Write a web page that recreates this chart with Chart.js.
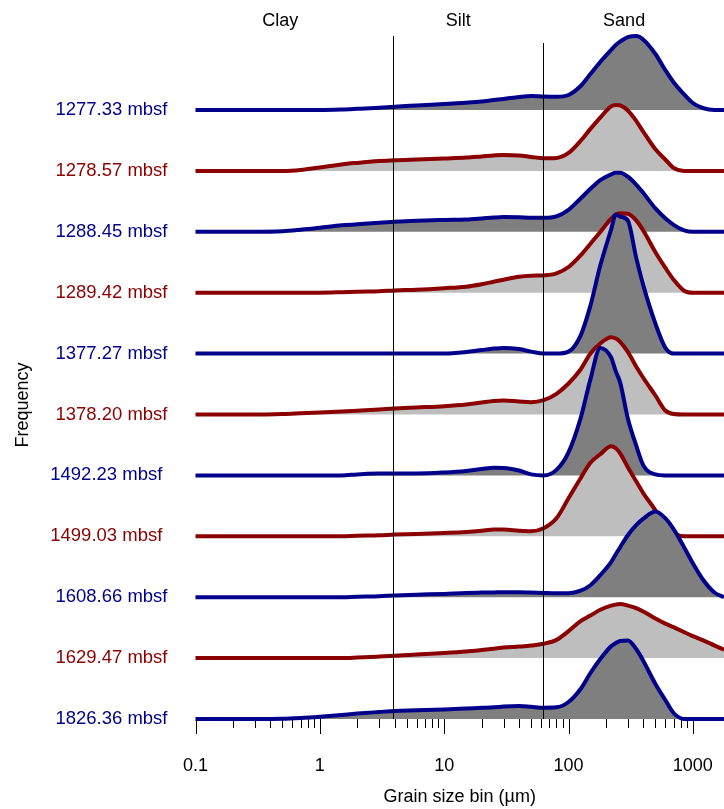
<!DOCTYPE html>
<html>
<head>
<meta charset="utf-8">
<script src="https://cdn.jsdelivr.net/npm/chart.js@4.4.1/dist/chart.umd.min.js"></script>
<style>
  html, body { margin: 0; padding: 0; background: #fff; }
  canvas { display: block; }
</style>
</head>
<body>
<canvas id="chart" width="724" height="809"></canvas>
<script>
// grain size bins (µm), shared by all samples
const grainSize = [0.1, 0.3, 0.5, 0.7, 1, 1.5, 2, 3, 4, 6, 10, 15, 20, 25, 30, 40, 50, 63, 80, 100,
    125, 150, 180, 220, 240, 260, 300, 350, 400, 500, 600, 700, 850, 1000, 1200, 1500, 1780];

// frequency per bin (arbitrary units)
const f1277_33 = [0, 0, 0, 0, 0, 0.5, 1.2, 2.3, 3.3, 4.5, 6, 7.3, 8.5, 10, 11, 13, 14, 13.5, 13.3, 15,
    24, 36, 48, 60, 65, 68.4, 72.8, 74, 70.3, 56, 40, 27.7, 15.6, 7, 2, 0, 0];
const f1278_57 = [0, 0, 0, 1, 3.5, 6.5, 8, 9.8, 10.7, 11.5, 12.5, 13.3, 14.5, 15.5, 16, 15.5, 14, 12.7, 13, 18,
    30, 42, 53.3, 64.5, 66, 65.5, 60.4, 50, 39, 21.6, 11.4, 3, 0, 0, 0, 0, 0];
const f1288_45 = [0, 0, 0.5, 2, 4, 6.5, 7.5, 9, 10, 11, 11.8, 12.3, 13.3, 14.2, 14.7, 14.5, 14, 14, 15.5, 22,
    33.3, 43, 51.7, 57.5, 59, 59, 55.1, 47.2, 38.7, 23.4, 13.5, 7, 1.5, 0, 0, 0, 0];
const f1289_42 = [0, 0, 0, 0, 0, 0.5, 1, 1.5, 2.3, 3, 4.5, 6, 8.5, 11, 13, 16, 17, 17.3, 19.3, 25.7,
    37.3, 49, 60.7, 74, 78, 79.5, 79, 72.4, 62, 40.5, 25, 13, 2, 0, 0, 0, 0];
const f1377_27 = [0, 0, 0, 0, 0, 0, 0, 0, 0, 0, 0, 1.5, 3.5, 5, 5.7, 4.5, 2, 0, 0, 2,
    18, 48, 88, 124, 139, 137, 133, 96, 68, 30, 6, 0, 0, 0, 0, 0, 0];
const f1378_20 = [0, 0, 0.5, 1.2, 2, 3, 3.8, 5, 6, 7, 8.3, 10, 12, 13.5, 14, 13, 12.3, 14.3, 20.7, 31,
    45, 61, 71, 77.3, 76, 72.7, 62.6, 48, 36.5, 19, 4, 0.5, 0, 0, 0, 0, 0];
const f1492_23 = [0, 0, 0, 0, 0, 0, 1, 1.8, 2, 2, 3, 4.5, 6.3, 7.6, 7.5, 4.9, 1, 0, 5.5, 23,
    57, 96, 127.5, 118, 104, 93, 57, 30, 10, 1, 0, 0, 0, 0, 0, 0, 0];
const f1499_03 = [0, 0, 0, 0, 0, 0, 0.5, 1, 1.7, 2.3, 3.3, 4.3, 5.5, 6.7, 6.7, 5.5, 5, 8, 18, 38,
    58, 73.5, 82, 90, 88, 83, 69, 55, 43, 26, 9, 3, 0, 0, 0, 0, 0];
const f1608_66 = [0, 0, 0, 0, 0, 0, 0.5, 1, 1.7, 2.5, 3.3, 4.3, 4.6, 4.8, 5, 5, 4.7, 4.3, 4, 4,
    6.5, 12, 22, 35, 43, 50, 62, 72, 78.5, 85.7, 79, 68, 50, 34, 18, 4.5, 0];
const f1629_47 = [0, 0, 0, 0, 0, 0, 0.5, 1.5, 2.3, 3.5, 5, 6.5, 8, 9.3, 10.5, 11.5, 12.5, 14.3, 18.2, 27,
    37, 42.5, 48.3, 52.5, 53.5, 54, 52.5, 50, 46.5, 39.6, 34.5, 31, 26, 22, 18, 12.5, 8.3];
const f1826_36 = [0, 0, 0.2, 1, 2.3, 4.1, 5.4, 7, 8.1, 8.7, 9.6, 10.5, 11.2, 11.7, 12.5, 13, 12.2, 11.3, 11.7, 17,
    30, 46, 60, 72.8, 76, 78, 78.5, 70, 58, 35, 19, 6, 0, 0, 0, 0, 0];

// samples, top to bottom
const depthLabels = ['1277.33 mbsf', '1278.57 mbsf', '1288.45 mbsf', '1289.42 mbsf', '1377.27 mbsf',
    '1378.20 mbsf', '1492.23 mbsf ', '1499.03 mbsf ', '1608.66 mbsf', '1629.47 mbsf', '1826.36 mbsf'];
const frequencies = [f1277_33, f1278_57, f1288_45, f1289_42, f1377_27, f1378_20,
    f1492_23, f1499_03, f1608_66, f1629_47, f1826_36];

// x axis
const tickValues = [0.1, 1, 10, 100, 1000];
const tickLabels = ['0.1', '1', '10', '100', '1000'];

// Wentworth class boundaries (µm) and class names
const boundaries = [3.9, 62.5];
const boundaryTop = [683, 676];
const classNames = ['Clay', 'Silt', 'Sand'];
const classCentres = [0.48, 13, 280];

const rowGap = 60.9;
const lineColors = ['#00008b', '#8b0000'];
const fillColors = ['#7f7f7f', '#bebebe'];

Chart.defaults.font.family = '"Liberation Sans", Arial, Helvetica, sans-serif';
Chart.defaults.font.size = 18;
Chart.defaults.color = '#000';

const n = frequencies.length;
const baselines = frequencies.map((_, i) => (n - 1 - i) * rowGap);

const datasets = frequencies.map((vals, i) => ({
    label: depthLabels[i],
    data: vals.map((v, j) => ({ x: grainSize[j], y: baselines[i] + v })),
    borderColor: lineColors[i % 2],
    backgroundColor: fillColors[i % 2],
    borderWidth: 4,
    borderJoinStyle: 'round',
    pointRadius: 0,
    cubicInterpolationMode: 'monotone',
    fill: { value: baselines[i] },
    order: n - 1 - i, // lower ridges drawn over upper ones
    clip: false
}));

// axis ticks (major + minor) and class boundaries / labels
const decorations = {
    id: 'decorations',
    beforeDatasetsDraw(chart) {
        const ctx = chart.ctx;
        const xs = chart.scales.x;
        const bottom = chart.chartArea.bottom;
        ctx.save();
        ctx.strokeStyle = '#000';
        ctx.lineWidth = 1;
        for (let e = -1; e <= 3; e++) {
            for (let m = 1; m <= 9; m++) {
                const v = m * Math.pow(10, e);
                if (v > xs.max) continue;
                const px = Math.round(xs.getPixelForValue(v)) + 0.5;
                ctx.beginPath();
                ctx.moveTo(px, bottom);
                ctx.lineTo(px, bottom + (m === 1 ? 15 : 9));
                ctx.stroke();
            }
        }
        ctx.restore();
    },
    afterDatasetsDraw(chart) {
        const ctx = chart.ctx;
        const xs = chart.scales.x;
        const ys = chart.scales.y;
        const area = chart.chartArea;
        ctx.save();
        ctx.strokeStyle = '#000';
        ctx.lineWidth = 1;
        boundaries.forEach((b, i) => {
            const px = Math.round(xs.getPixelForValue(b)) + 0.5;
            ctx.beginPath();
            ctx.moveTo(px, ys.getPixelForValue(boundaryTop[i]));
            ctx.lineTo(px, area.bottom);
            ctx.stroke();
        });
        ctx.fillStyle = '#000';
        ctx.font = '18px "Liberation Sans", Arial, Helvetica, sans-serif';
        ctx.textAlign = 'center';
        ctx.textBaseline = 'alphabetic';
        classNames.forEach((name, i) => {
            ctx.fillText(name, xs.getPixelForValue(classCentres[i]), area.top + 6);
        });
        // y axis title
        ctx.translate(28, 405);
        ctx.rotate(-Math.PI / 2);
        ctx.fillText('Frequency', 0, 0);
        ctx.restore();
    }
};

new Chart(document.getElementById('chart'), {
    type: 'line',
    data: { datasets: datasets },
    options: {
        responsive: false,
        animation: false,
        devicePixelRatio: 1,
        layout: { padding: { top: 20, right: 0, bottom: 0, left: 0 } },
        plugins: {
            legend: { display: false },
            tooltip: { enabled: false }
        },
        scales: {
            x: {
                type: 'logarithmic',
                min: 0.1,
                max: 1780,
                afterBuildTicks: scale => { scale.ticks = tickValues.map(v => ({ value: v })); },
                afterFit: scale => {
                    scale.height = 90;
                    scale.paddingLeft = 0;
                    scale.paddingRight = 0;
                },
                grid: { display: false, drawTicks: false },
                border: { display: false },
                ticks: {
                    autoSkip: false,
                    maxRotation: 0,
                    padding: 36,
                    callback: (value, index) => tickLabels[index]
                },
                title: {
                    display: true,
                    text: 'Grain size bin (µm)',
                    padding: { top: 0, bottom: 1 }
                }
            },
            y: {
                type: 'linear',
                min: 0,
                max: 699,
                afterBuildTicks: scale => { scale.ticks = baselines.map(v => ({ value: v })); },
                afterFit: scale => {
                    scale.width = 195.5;
                    scale.paddingTop = 0;
                    scale.paddingBottom = 0;
                },
                grid: { display: false, drawTicks: false },
                border: { display: false },
                ticks: {
                    autoSkip: false,
                    padding: 28,
                    font: { size: 18.5 },
                    color: c => lineColors[c.index % 2],
                    callback: (value, index) => depthLabels[index]
                }
            }
        }
    },
    plugins: [decorations]
});
</script>
</body>
</html>
